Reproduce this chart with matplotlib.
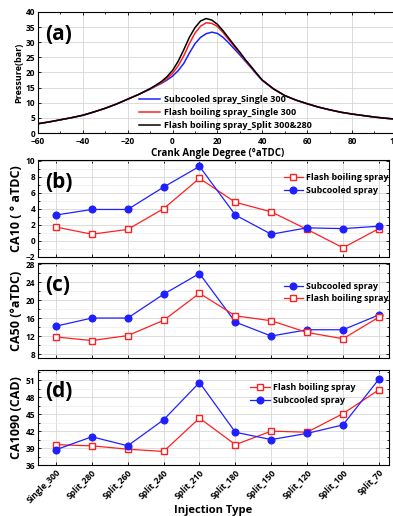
import numpy as np
import matplotlib.pyplot as plt
from matplotlib.ticker import MultipleLocator

plt.rcParams['font.family'] = ['Open Sans', 'DejaVu Sans']
plt.rcParams['font.weight'] = 'bold'

# ---- panel (a): cylinder pressure ----
crank_deg = [-60, -55, -50, -45, -40, -35, -30, -25, -20, -15, -10, -7.5, -5, -2.5, 0,
             2.5, 5, 7.5, 10, 12.5, 15, 17.5, 20, 22.5, 25, 27.5, 30, 32.5, 35, 37.5,
             40, 45, 50, 55, 60, 65, 70, 75, 80, 85, 90, 95, 100]
p_subcooled = [3.1, 3.7, 4.4, 5.1, 5.9, 7.0, 8.2, 9.6, 11.2, 12.8, 14.5, 15.5, 16.4, 17.5, 18.8,
               20.6, 23.0, 26.4, 29.5, 31.6, 32.8, 33.3, 32.9, 31.6, 29.8, 27.8, 25.8, 23.7, 21.6, 19.4,
               17.4, 14.6, 12.4, 10.9, 9.7, 8.6, 7.7, 6.9, 6.3, 5.8, 5.3, 4.9, 4.6]
p_flash = [3.1, 3.7, 4.4, 5.1, 5.9, 7.0, 8.2, 9.6, 11.2, 12.8, 14.6, 15.6, 16.6, 18.0, 19.7,
           22.2, 25.5, 29.5, 33.0, 35.3, 36.4, 36.2, 35.2, 33.2, 30.9, 28.6, 26.4, 24.0, 21.8, 19.6,
           17.5, 14.6, 12.4, 10.9, 9.7, 8.6, 7.7, 6.9, 6.3, 5.8, 5.3, 4.9, 4.6]
p_split = [3.1, 3.7, 4.4, 5.1, 5.9, 7.0, 8.2, 9.6, 11.2, 12.8, 14.7, 15.8, 17.0, 18.6, 20.7,
           23.7, 27.5, 31.6, 34.8, 37.0, 37.8, 37.3, 35.9, 33.8, 31.4, 29.0, 26.7, 24.2, 22.0, 19.7,
           17.5, 14.6, 12.4, 10.9, 9.7, 8.6, 7.7, 6.9, 6.3, 5.8, 5.3, 4.9, 4.6]

# ---- panels (b)-(d): combustion phasing ----
injection = ['Single_300', 'Split_280', 'Split_260', 'Split_240', 'Split_210',
             'Split_180', 'Split_150', 'Split_120', 'Split_100', 'Split_70']
ca10_flash = [1.7, 0.8, 1.4, 4.0, 7.8, 4.8, 3.6, 1.4, -0.9, 1.5]
ca10_sub = [3.2, 3.9, 3.9, 6.7, 9.3, 3.2, 0.8, 1.6, 1.5, 1.8]
ca50_sub = [14.2, 16.0, 16.0, 21.3, 25.9, 15.1, 12.0, 13.4, 13.4, 16.7]
ca50_flash = [11.8, 11.0, 12.1, 15.5, 21.5, 16.5, 15.4, 12.8, 11.4, 16.2]
ca1090_flash = [39.6, 39.4, 38.8, 38.4, 44.3, 39.6, 42.0, 41.8, 45.1, 49.3]
ca1090_sub = [38.7, 41.0, 39.4, 44.0, 50.6, 41.8, 40.5, 41.6, 43.1, 51.2]

BLUE = '#2020ff'
RED = '#ff2020'

fig = plt.figure(figsize=(3.93, 5.16), dpi=100)


def style(ax):
    ax.grid(True, which='major', color='#d6d6d6', lw=0.6)
    ax.grid(True, which='minor', color='#ececec', lw=0.5)
    ax.set_axisbelow(True)
    ax.tick_params(which='both', direction='in', top=True, right=True,
                   labelsize=6, length=2.5, width=0.6, pad=2)
    ax.tick_params(which='minor', length=1.5)
    for s in ax.spines.values():
        s.set_linewidth(0.8)
    for lab in ax.get_xticklabels() + ax.get_yticklabels():
        lab.set_fontweight('bold')


# (a)
axa = fig.add_axes([0.0967, 0.742, 0.913, 0.235])
axa.plot(crank_deg, p_subcooled, color=BLUE, lw=1.1, label='Subcooled spray_Single 300')
axa.plot(crank_deg, p_flash, color=RED, lw=1.1, label='Flash boiling spray_Single 300')
axa.plot(crank_deg, p_split, color='black', lw=1.1, label='Flash boiling spray_Split 300&280')
axa.set_xlim(-60, 100)
axa.set_ylim(0, 40)
axa.xaxis.set_major_locator(MultipleLocator(20))
axa.xaxis.set_minor_locator(MultipleLocator(10))
axa.yaxis.set_major_locator(MultipleLocator(5))
style(axa)
axa.grid(False, which='minor')
axa.tick_params(axis='x', pad=3)
axa.set_xlabel('Crank Angle Degree (°aTDC)', fontsize=7, fontweight='bold', labelpad=1)
axa.set_ylabel('Pressure(bar)', fontsize=6.5, fontweight='bold', labelpad=2)
axa.text(0.02, 0.9, '(a)', transform=axa.transAxes, fontsize=15, fontweight='bold', va='top')
axa.legend(loc='lower left', bbox_to_anchor=(0.26, -0.045), frameon=False,
           handlelength=2.3, handletextpad=0.4, labelspacing=0.45,
           prop={'weight': 'bold', 'size': 6.5})

x = np.arange(len(injection))


def phase_panel(rect, series, ylim, ystep, ylabel, tag, legend_anchor, show_x=False):
    ax = fig.add_axes(rect)
    for vals, kind, lab in series:
        if kind == 'flash':
            ax.plot(x, vals, color=RED, lw=0.9, marker='s', ms=4.2, mfc='white',
                    mec=RED, mew=1.0, label=lab)
        else:
            ax.plot(x, vals, color=BLUE, lw=0.9, marker='o', ms=4.8, mfc=BLUE,
                    mec=BLUE, label=lab)
    ax.set_xlim(-0.5, 9.28)
    ax.set_ylim(*ylim)
    ax.set_xticks(x)
    ax.yaxis.set_major_locator(MultipleLocator(ystep))
    ax.yaxis.set_minor_locator(MultipleLocator(ystep / 2))
    style(ax)
    if show_x:
        ax.set_xticklabels(injection, rotation=45, ha='right', rotation_mode='anchor',
                           fontsize=6.2, fontweight='bold')
        ax.set_xlabel('Injection Type', fontsize=8, fontweight='bold', labelpad=0)
    else:
        ax.set_xticklabels([])
    ax.set_ylabel(ylabel, fontsize=9, fontweight='bold', labelpad=2)
    ax.text(0.02, 0.88, tag, transform=ax.transAxes, fontsize=15, fontweight='bold', va='top')
    ax.legend(loc='upper left', bbox_to_anchor=legend_anchor, frameon=False,
              handlelength=2.2, handletextpad=0.3, labelspacing=0.4, borderaxespad=0,
              prop={'weight': 'bold', 'size': 6.4})
    return ax


phase_panel([0.0967, 0.502, 0.893, 0.188],
            [(ca10_flash, 'flash', 'Flash boiling spray'), (ca10_sub, 'sub', 'Subcooled spray')],
            (-2.05, 10.1), 2, 'CA10 ( ° aTDC)', '(b)', (0.69, 0.9))
phase_panel([0.0967, 0.306, 0.893, 0.184],
            [(ca50_sub, 'sub', 'Subcooled spray'), (ca50_flash, 'flash', 'Flash boiling spray')],
            (7.1, 28.2), 4, 'CA50 (°aTDC)', '(c)', (0.69, 0.84))
phase_panel([0.0967, 0.0988, 0.893, 0.184],
            [(ca1090_flash, 'flash', 'Flash boiling spray'), (ca1090_sub, 'sub', 'Subcooled spray')],
            (36, 52.8), 3, 'CA1090 (CAD)', '(d)', (0.595, 0.9), show_x=True)

fig.savefig('out.png', dpi=100)
